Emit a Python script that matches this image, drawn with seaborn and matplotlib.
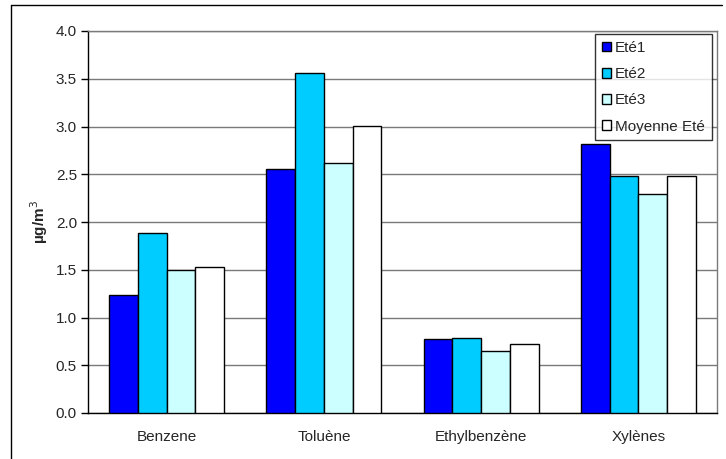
import matplotlib
matplotlib.use("Agg")
import matplotlib.pyplot as plt
from matplotlib.lines import Line2D
from matplotlib.patches import Patch
import seaborn as sns
import pandas as pd
import numpy as np

categories = ["Benzene", "Toluène", "Ethylbenzène", "Xylènes"]
series = ["Eté1", "Eté2", "Eté3", "Moyenne Eté"]
ete1 = [1.24, 2.56, 0.77, 2.82]
ete2 = [1.88, 3.56, 0.79, 2.48]
ete3 = [1.50, 2.62, 0.65, 2.29]
moyenne = [1.53, 3.01, 0.72, 2.48]
colors = ["#0000FF", "#00CCFF", "#CCFFFF", "#FFFFFF"]
yticks = [0.0, 0.5, 1.0, 1.5, 2.0, 2.5, 3.0, 3.5, 4.0]

rows = []
for name, vals in zip(series, [ete1, ete2, ete3, moyenne]):
    for cat, v in zip(categories, vals):
        rows.append({"cat": cat, "serie": name, "val": v})
df = pd.DataFrame(rows)

sns.set_style("white")
plt.rcParams["font.family"] = ["Liberation Sans", "DejaVu Sans"]
FS = 11

fig = plt.figure(figsize=(7.26, 4.59), dpi=100)
W, H = 726, 459
ax = fig.add_axes([88 / W, 1 - 413 / H, (717 - 88) / W, (413 - 31) / H])

sns.barplot(data=df, x="cat", y="val", hue="serie", order=categories,
            hue_order=series, palette=colors, saturation=1, edgecolor="black",
            linewidth=1.0, width=0.73, gap=0, ax=ax, legend=False, zorder=3)

ax.set_ylim(0, 4.0)
ax.set_xlim(-0.5, 3.5)
ax.set_yticks(yticks)
ax.set_yticklabels([f"{t:.1f}" for t in yticks], fontsize=FS)
ax.yaxis.grid(True, color="#7a7a7a", linewidth=1.0, zorder=0)
ax.set_axisbelow(True)

# category labels centred, tick marks on category boundaries
ax.set_xticks(range(len(categories)))
ax.set_xticklabels(categories, fontsize=FS)
ax.tick_params(axis="x", which="major", length=0, pad=12)
ax.set_xticks(np.arange(-0.5, 4.0, 1.0), minor=True)
ax.tick_params(axis="x", which="minor", length=5, width=1, color="#555555",
               direction="out")
ax.tick_params(axis="y", length=5, width=1, color="black", direction="out",
               pad=3, left=True)

ax.set_xlabel("")
ax.set_ylabel("µg/m$^3$", fontsize=FS, fontweight="bold", labelpad=4)

for side in ["left", "bottom"]:
    ax.spines[side].set_color("black")
    ax.spines[side].set_linewidth(1.0)
for side in ["top", "right"]:
    ax.spines[side].set_visible(True)
    ax.spines[side].set_color("#7a7a7a")
    ax.spines[side].set_linewidth(1.0)

handles = [Patch(facecolor=c, edgecolor="black", linewidth=1.0) for c in colors]
leg = ax.legend(handles, series, loc="upper right",
                bbox_to_anchor=((712 - 88) / (717 - 88), 1 - (34 - 31) / (413 - 31)),
                fontsize=FS, frameon=True, fancybox=False, shadow=False,
                handlelength=0.6, handleheight=0.6, handletextpad=0.25,
                labelspacing=0.8, borderpad=0.45, borderaxespad=0)
leg.get_frame().set_edgecolor("black")
leg.get_frame().set_linewidth(1.0)
leg.set_zorder(5)

# outer chart border
fig.add_artist(Line2D([11 / W, 11 / W], [1 - 5 / H, 0], color="black", lw=1.0))
fig.add_artist(Line2D([11 / W, 722 / W], [1 - 5 / H, 1 - 5 / H], color="black", lw=1.0))

fig.savefig("out.png", dpi=100)
